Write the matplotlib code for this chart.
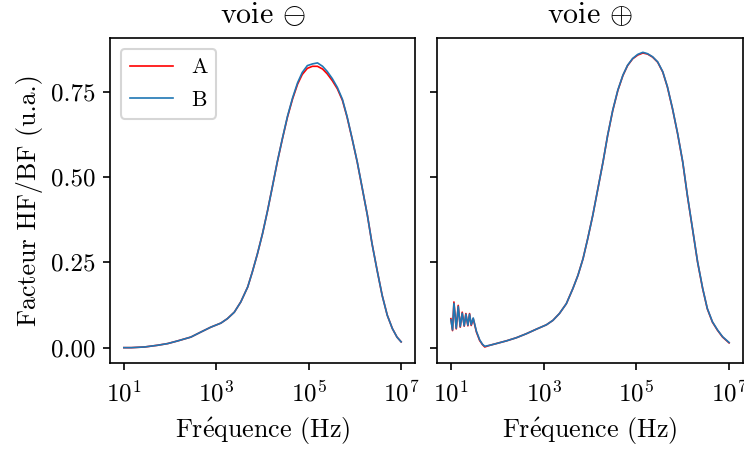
import matplotlib
matplotlib.use('Agg')
import matplotlib.pyplot as plt
import numpy as np

plt.rcParams['font.family'] = ['cmr10', 'DejaVu Serif']
plt.rcParams['mathtext.fontset'] = 'cm'
plt.rcParams['axes.formatter.use_mathtext'] = True
plt.rcParams['axes.unicode_minus'] = False
plt.rcParams['font.size'] = 12
plt.rcParams['axes.labelsize'] = 12.5

# voie moins (left panel), log10 of frequency
logf_m = [1.0, 1.16, 1.45, 1.73, 1.95, 2.17, 2.45, 2.67, 2.88, 3.10, 3.24, 3.39, 3.53,
          3.68, 3.78, 3.89, 4.00, 4.11, 4.22, 4.32, 4.43, 4.54, 4.65, 4.76, 4.86, 4.97,
          5.08, 5.19, 5.30, 5.40, 5.51, 5.62, 5.73, 5.83, 5.94, 6.05, 6.16, 6.27, 6.37,
          6.48, 6.59, 6.70, 6.81, 6.91, 7.0]
a_m = [0.0, 0.0, 0.002, 0.007, 0.012, 0.020, 0.031, 0.046, 0.060, 0.072, 0.085, 0.104,
       0.134, 0.178, 0.222, 0.275, 0.334, 0.402, 0.476, 0.544, 0.612, 0.676, 0.729, 0.773,
       0.801, 0.819, 0.825, 0.825, 0.817, 0.803, 0.783, 0.759, 0.725, 0.676, 0.612, 0.544,
       0.466, 0.388, 0.305, 0.227, 0.153, 0.095, 0.056, 0.031, 0.017]
b_m = [0.0, 0.0, 0.002, 0.007, 0.012, 0.020, 0.031, 0.046, 0.060, 0.072, 0.085, 0.104,
       0.134, 0.178, 0.222, 0.275, 0.334, 0.402, 0.476, 0.545, 0.613, 0.678, 0.732, 0.777,
       0.807, 0.827, 0.832, 0.835, 0.825, 0.810, 0.789, 0.763, 0.728, 0.678, 0.613, 0.545,
       0.467, 0.388, 0.305, 0.227, 0.153, 0.095, 0.056, 0.031, 0.017]

# voie plus (right panel)
logf_p = [1.0, 1.035, 1.065, 1.115, 1.158, 1.201, 1.244, 1.287, 1.323, 1.366, 1.402, 1.438,
          1.481, 1.55, 1.62, 1.68, 1.73, 1.84, 1.98, 2.20, 2.41, 2.63, 2.84, 3.06, 3.20,
          3.34, 3.49, 3.63, 3.74, 3.85, 3.95, 4.06, 4.17, 4.28, 4.38, 4.49, 4.60, 4.71,
          4.81, 4.92, 5.03, 5.14, 5.24, 5.35, 5.46, 5.57, 5.67, 5.78, 5.89, 6.00, 6.10,
          6.21, 6.32, 6.43, 6.53, 6.64, 6.75, 6.86, 7.0]
a_p = [0.085, 0.050, 0.134, 0.055, 0.124, 0.060, 0.104, 0.063, 0.100, 0.064, 0.100, 0.065,
       0.085, 0.046, 0.021, 0.009, 0.002, 0.007, 0.012, 0.020, 0.029, 0.041, 0.054, 0.067,
       0.080, 0.100, 0.129, 0.173, 0.212, 0.261, 0.319, 0.388, 0.466, 0.544, 0.622, 0.695,
       0.754, 0.798, 0.827, 0.847, 0.858, 0.864, 0.861, 0.852, 0.837, 0.808, 0.764, 0.700,
       0.627, 0.544, 0.446, 0.349, 0.251, 0.173, 0.114, 0.075, 0.051, 0.031, 0.014]
b_p = [0.082, 0.052, 0.130, 0.057, 0.121, 0.062, 0.101, 0.064, 0.098, 0.066, 0.098, 0.067,
       0.087, 0.048, 0.023, 0.010, 0.004, 0.007, 0.012, 0.020, 0.029, 0.041, 0.054, 0.067,
       0.080, 0.100, 0.129, 0.173, 0.212, 0.261, 0.319, 0.388, 0.466, 0.544, 0.622, 0.696,
       0.755, 0.799, 0.828, 0.848, 0.860, 0.866, 0.862, 0.853, 0.838, 0.809, 0.765, 0.701,
       0.628, 0.545, 0.447, 0.350, 0.252, 0.174, 0.115, 0.076, 0.052, 0.032, 0.015]

fig = plt.figure(figsize=(4.96, 3.0), dpi=150)
ax1 = fig.add_axes([110/744, 1-363/450, 305/744, 325/450])
ax2 = fig.add_axes([437/744, 1-363/450, 306/744, 325/450], sharey=ax1)

ax1.plot(10**np.array(logf_m), a_m, color='red', lw=0.8, label='A')
ax1.plot(10**np.array(logf_m), b_m, color='#1f77b4', lw=0.8, label='B')
ax2.plot(10**np.array(logf_p), a_p, color='red', lw=0.8)
ax2.plot(10**np.array(logf_p), b_p, color='#1f77b4', lw=0.8)

for ax in (ax1, ax2):
    ax.set_xscale('log')
    ax.set_xticks([1e1, 1e3, 1e5, 1e7])
    ax.minorticks_off()
    ax.tick_params(axis='x', pad=5)
    ax.set_xlabel(r'Fr$\mathrm{\acute{e}}$quence (Hz)')
ax1.set_ylim(-0.045, 0.908)
ax1.set_yticks([0, 0.25, 0.5, 0.75])
ax1.yaxis.set_major_formatter(matplotlib.ticker.FormatStrFormatter('%.2f'))
plt.setp(ax2.get_yticklabels(), visible=False)
ax1.set_ylabel('Facteur HF/BF (u.a.)')
ax1.set_title(r'voie $\ominus$', pad=7)
ax2.set_title(r'voie $\oplus$', pad=7)
ax1.legend(loc='upper left', fontsize=10.5, labelspacing=0.6)

fig.savefig('out.png', dpi=150)
